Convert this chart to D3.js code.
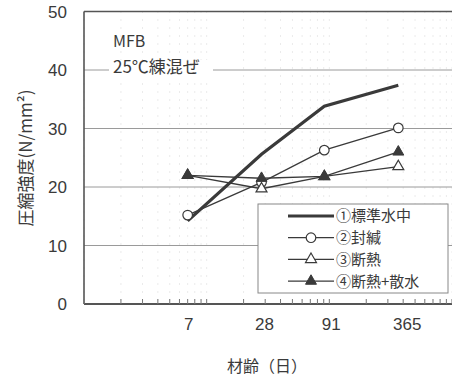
<!DOCTYPE html>
<html>
<head>
<meta charset="utf-8">
<script src="https://cdn.jsdelivr.net/npm/d3@7"></script>
<style>
  html, body { margin: 0; padding: 0; background: #fff; }
  svg { display: block; }
  text { font-family: "Noto Sans CJK JP", "Liberation Sans", sans-serif; fill: #3a3a3a; }
  text.num { font-family: "Liberation Sans", Arial, sans-serif; }
</style>
</head>
<body>
<svg id="chart" width="452" height="378"></svg>
<script>
// material age (days), log axis
const ages = [7, 28, 91, 365];
const ageLabels = ["7", "28", "91", "365"];
const yTicks = [0, 10, 20, 30, 40, 50];

const seriesNames = ["①標準水中", "②封緘", "③断熱", "④断熱+散水"];
const standardWater = [14.2, 25.6, 33.8, 37.4];
const sealed = [15.2, 20.8, 26.3, 30.1];
const insulated = [22.0, 19.7, 21.8, 23.5];
const insulatedSprinkled = [22.0, 21.5, 21.8, 26.0];

const series = [
  { name: seriesNames[0], values: standardWater, marker: "none", width: 3.2 },
  { name: seriesNames[1], values: sealed, marker: "circle", width: 1.3 },
  { name: seriesNames[2], values: insulated, marker: "triOpen", width: 1.3 },
  { name: seriesNames[3], values: insulatedSprinkled, marker: "triFilled", width: 1.3 },
];

const svg = d3.select("#chart");
const margin = { left: 84, top: 11.5, right: 0, bottom: 74 };
const width = 452 - margin.left - margin.right;
const height = 378 - margin.top - margin.bottom;
const ink = "#3a3a3a";

const x = d3.scaleLog().domain([1, 1000]).range([0, width]);
const y = d3.scaleLinear().domain([0, 50]).range([height, 0]);

const g = svg.append("g").attr("transform", `translate(${margin.left},${margin.top})`);

// faint dotted verticals (scan texture of the original)
const logTicks = x.ticks();
g.append("g")
  .selectAll("line")
  .data(logTicks)
  .join("line")
  .attr("x1", (d) => x(d))
  .attr("x2", (d) => x(d))
  .attr("y1", 0)
  .attr("y2", height)
  .attr("stroke", "#d6d6d6")
  .attr("stroke-width", 1)
  .attr("stroke-dasharray", "1,7");

// horizontal gridlines
g.append("g")
  .selectAll("line")
  .data(yTicks.filter((d) => d > 0 && d < 50))
  .join("line")
  .attr("x1", 0)
  .attr("x2", width)
  .attr("y1", (d) => y(d))
  .attr("y2", (d) => y(d))
  .attr("stroke", "#9a9a9a")
  .attr("stroke-width", 1);

// annotation (white background cuts the 40 gridline)
const note = g.append("g").attr("transform", "translate(29,0)");
note.append("rect")
  .attr("x", -4).attr("y", y(40) - 10).attr("width", 104).attr("height", 20)
  .attr("fill", "#fff");
note.append("text").attr("x", 0).attr("y", 35).attr("font-size", 16).text("MFB");
note.append("text").attr("x", 0).attr("y", 61).attr("font-size", 17).text("25℃練混ぜ");

// frame
g.append("line").attr("x1", 0).attr("x2", width).attr("y1", 0).attr("y2", 0)
  .attr("stroke", "#555").attr("stroke-width", 1.4);
g.append("line").attr("x1", 0).attr("x2", 0).attr("y1", 0).attr("y2", height)
  .attr("stroke", "#555").attr("stroke-width", 1.6);
g.append("line").attr("x1", 0).attr("x2", width).attr("y1", height).attr("y2", height)
  .attr("stroke", "#555").attr("stroke-width", 2);

// minor log ticks on the bottom axis, pointing inward
g.append("g")
  .selectAll("line")
  .data(logTicks)
  .join("line")
  .attr("x1", (d) => x(d))
  .attr("x2", (d) => x(d))
  .attr("y1", height)
  .attr("y2", height - 5)
  .attr("stroke", "#777")
  .attr("stroke-width", 1);

// y tick labels
g.append("g")
  .selectAll("text")
  .data(yTicks)
  .join("text")
  .attr("class", "num")
  .attr("x", -17)
  .attr("y", (d) => y(d))
  .attr("dy", "0.36em")
  .attr("text-anchor", "end")
  .attr("font-size", 17)
  .text((d) => d);

// x tick labels
g.append("g")
  .selectAll("text")
  .data(ages)
  .join("text")
  .attr("class", "num")
  .attr("x", (d, i) => x(d) + [1, 3, 7, 9][i])
  .attr("y", height + 26)
  .attr("text-anchor", "middle")
  .attr("font-size", 17)
  .text((d, i) => ageLabels[i]);

// axis titles
svg.append("text")
  .attr("transform", "translate(32,158) rotate(-90)")
  .attr("text-anchor", "middle")
  .attr("font-size", 17)
  .text("圧縮強度(N/mm²)");
svg.append("text")
  .attr("x", 267)
  .attr("y", 372)
  .attr("text-anchor", "middle")
  .attr("font-size", 16)
  .text("材齢（日）");

// series
const line = d3.line().x((d) => x(d.age)).y((d) => y(d.v));
const tri = d3.symbol().type(d3.symbolTriangle).size(52);

function drawMarker(sel, marker) {
  if (marker === "circle") {
    sel.append("circle").attr("r", 4.8).attr("fill", "#fff").attr("stroke", ink).attr("stroke-width", 1.2);
  } else if (marker === "triOpen") {
    sel.append("path").attr("d", tri).attr("fill", "#fff").attr("stroke", ink).attr("stroke-width", 1.2);
  } else if (marker === "triFilled") {
    sel.append("path").attr("d", tri).attr("fill", ink).attr("stroke", ink).attr("stroke-width", 1);
  }
}

const seriesG = g.append("g")
  .selectAll("g")
  .data(series)
  .join("g");

seriesG.append("path")
  .attr("d", (s) => line(s.values.map((v, i) => ({ age: ages[i], v }))))
  .attr("fill", "none")
  .attr("stroke", ink)
  .attr("stroke-width", (s) => s.width);

seriesG.each(function (s) {
  if (s.marker === "none") return;
  d3.select(this)
    .selectAll("g.pt")
    .data(s.values.map((v, i) => ({ age: ages[i], v })))
    .join("g")
    .attr("class", "pt")
    .attr("transform", (d) => `translate(${x(d.age)},${y(d.v)})`)
    .each(function () {
      drawMarker(d3.select(this), s.marker);
    });
});

// legend
const legend = svg.append("g").attr("transform", "translate(258,204)");
legend.append("rect")
  .attr("width", 190).attr("height", 89)
  .attr("fill", "#fff").attr("stroke", "#888").attr("stroke-width", 1);
const rows = legend.selectAll("g.row")
  .data(series)
  .join("g")
  .attr("class", "row")
  .attr("transform", (d, i) => `translate(0,${12 + i * 21.7})`);
rows.append("line")
  .attr("x1", 30).attr("x2", 76)
  .attr("stroke", ink)
  .attr("stroke-width", (d) => d.width);
rows.each(function (d) {
  const m = d3.select(this).append("g").attr("transform", "translate(53,0)");
  drawMarker(m, d.marker);
});
rows.append("text")
  .attr("x", 78)
  .attr("dy", "0.36em")
  .attr("font-size", 15)
  .text((d) => d.name);
</script>
</body>
</html>
